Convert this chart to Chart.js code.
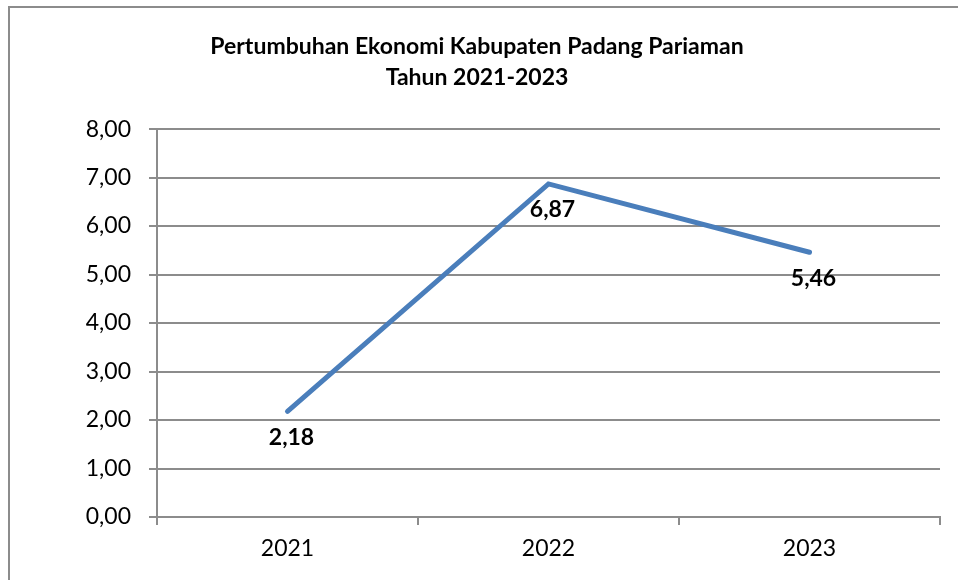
<!DOCTYPE html>
<html>
<head>
<meta charset="utf-8">
<script src="https://cdn.jsdelivr.net/npm/chart.js@4.4.1/dist/chart.umd.min.js"></script>
<style>
    html, body { margin: 0; padding: 0; background: #ffffff; }
    #wrap { position: relative; width: 958px; height: 580px; overflow: hidden; }
    #frame {
        position: absolute; left: 8px; top: 6px; right: -10px; bottom: -10px;
        border-left: 2px solid #8c8c8c; border-top: 2px solid #8c8c8c;
    }
    #canvas-growth { position: absolute; left: 0; top: 0; }
</style>
</head>
<body>
<div id="wrap">
    <div id="frame"></div>
    <canvas id="canvas-growth" width="958" height="580"></canvas>
</div>
<script>
const years = ['2021', '2022', '2023'];
const growth = [2.18, 6.87, 5.46];
const titleLines = ['Pertumbuhan Ekonomi Kabupaten Padang Pariaman', 'Tahun 2021-2023'];

const fontFamily = 'Lato, "Noto Sans", sans-serif';
const toComma = v => Number(v).toFixed(2).replace('.', ',');

// Bold value labels just under each point
const pointLabels = {
    id: 'pointLabels',
    afterDatasetsDraw(chart) {
        const ctx = chart.ctx;
        const meta = chart.getDatasetMeta(0);
        ctx.save();
        ctx.font = 'bold 23px ' + fontFamily;
        ctx.fillStyle = '#000000';
        ctx.textAlign = 'center';
        ctx.textBaseline = 'middle';
        meta.data.forEach((pt, i) => {
            ctx.fillText(toComma(chart.data.datasets[0].data[i]), pt.x + 4, pt.y + 26);
        });
        ctx.restore();
    }
};

const ctx = document.getElementById('canvas-growth').getContext('2d');
const chart = new Chart(ctx, {
    type: 'line',
    data: {
        labels: years,
        datasets: [{
            label: 'Pertumbuhan Ekonomi',
            data: growth,
            borderColor: '#4a7ebb',
            borderWidth: 5,
            borderCapStyle: 'round',
            borderJoinStyle: 'miter',
            pointRadius: 0,
            tension: 0,
            fill: false
        }]
    },
    options: {
        responsive: false,
        animation: false,
        layout: { padding: { left: 14, right: 18, top: 0, bottom: 0 } },
        scales: {
            x: {
                offset: true,
                grid: {
                    offset: true,
                    drawOnChartArea: false,
                    color: '#8c8c8c',
                    lineWidth: 2,
                    tickLength: 8
                },
                border: { color: '#8c8c8c', width: 2 },
                ticks: {
                    color: '#000000',
                    font: { family: fontFamily, size: 23 },
                    padding: 10
                },
                afterFit: s => { s.height = 63; }
            },
            y: {
                min: 0,
                max: 8,
                ticks: {
                    stepSize: 1,
                    color: '#000000',
                    font: { family: fontFamily, size: 23 },
                    padding: 18,
                    callback: v => toComma(v)
                },
                grid: {
                    color: '#8c8c8c',
                    lineWidth: 2,
                    tickLength: 8
                },
                border: { color: '#8c8c8c', width: 2 },
                afterFit: s => { s.width = 143; }
            }
        },
        plugins: {
            legend: { display: false },
            tooltip: { enabled: false },
            title: {
                display: true,
                text: titleLines,
                color: '#000000',
                font: { family: fontFamily, size: 23, weight: 'bold', lineHeight: 1.35 },
                padding: { top: 31, bottom: 36 }
            }
        }
    },
    plugins: [pointLabels]
});
</script>
</body>
</html>
